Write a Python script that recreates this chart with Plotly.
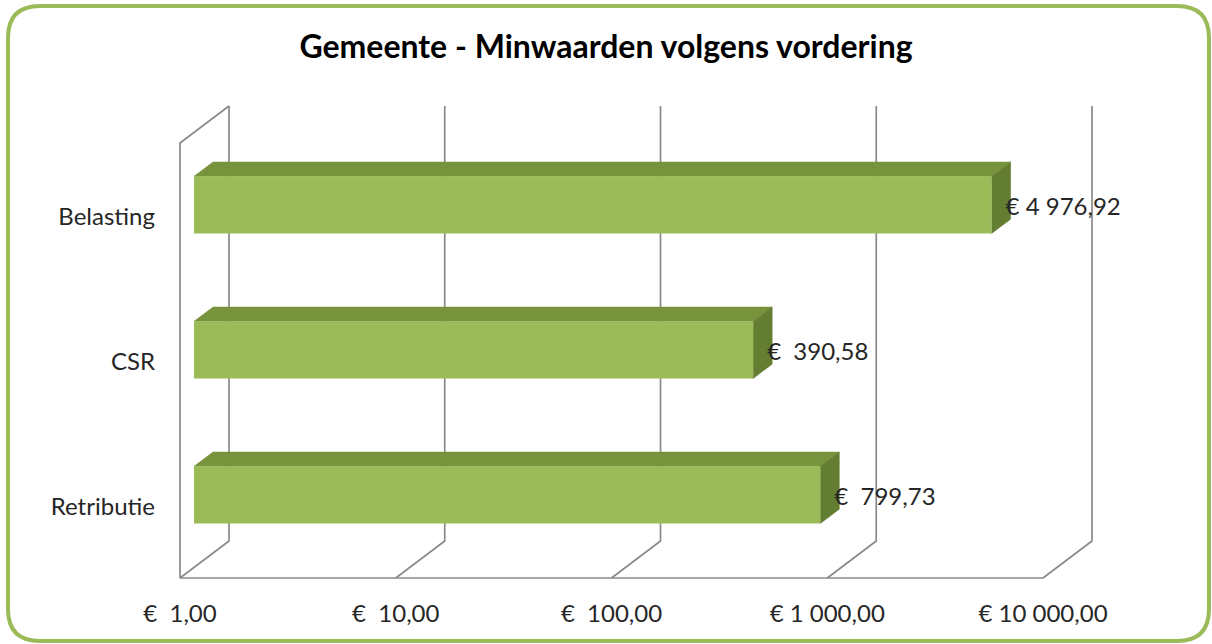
import plotly.graph_objects as go

# ---------------- data ----------------
CATEGORIES = ["Retributie", "CSR", "Belasting"]          # bottom -> top
VALUES = [799.73, 390.58, 4976.92]
DATA_LABELS = ["€\u00a0\u00a0799,73", "€\u00a0\u00a0390,58", "€\u00a04\u00a0976,92"]
TICK_VALUES = [1, 10, 100, 1000, 10000]
TICK_LABELS = ["€\u00a0\u00a01,00", "€\u00a0\u00a010,00", "€\u00a0\u00a0100,00",
               "€\u00a01\u00a0000,00", "€\u00a010\u00a0000,00"]
TITLE = "Gemeente - Minwaarden volgens vordering"

# ---------------- geometry / style ----------------
W, H = 1212, 644
ORIGIN_X = 180.0      # pixel of value 1 on front floor
DECADE = 215.75       # pixels per decade
CAT_Y0 = 505.5        # pixel of first category on front plane
CAT_STEP = 145.0      # pixels per category
DEPTH_PX = (49.0, 37.0)
BAR_FRONT, BAR_BACK = 14 / 49, 33 / 49
BAR_WIDTH = 0.394
LABEL_PAD_PX = 14
LABEL_DY_PX = 4

FONT = "Lato"
GREEN = "#9BBB59"
GREEN_TOP = "#77933C"
GREEN_SIDE = "#637D31"
GRID = "#8A8A8A"
TEXT = "#262626"

dxd = DEPTH_PX[0] / DECADE
dyd = DEPTH_PX[1] / CAT_STEP
xr = [-ORIGIN_X / DECADE, (W - ORIGIN_X) / DECADE]
yr = [(CAT_Y0 - H) / CAT_STEP, CAT_Y0 / CAT_STEP]
n = len(CATEGORIES)
pos = list(range(n))
ylo, yhi = -0.5, n - 0.5


def shift(x, y, f):
    return x * 10 ** (f * dxd), y + f * dyd


fig = go.Figure()

# walls / gridlines
gx, gy = [], []
for t in TICK_VALUES:
    bx, by0 = shift(t, ylo, 1)
    _, by1 = shift(t, yhi, 1)
    gx += [t, bx, bx, None]
    gy += [ylo, by0, by1, None]
gx += [TICK_VALUES[0], TICK_VALUES[-1], None]
gy += [ylo, ylo, None]
lx, ly = shift(TICK_VALUES[0], yhi, 1)
gx += [TICK_VALUES[0], TICK_VALUES[0], lx, None]
gy += [ylo, yhi, ly, None]
fig.add_trace(go.Scatter(x=gx, y=gy, mode="lines", line=dict(color=GRID, width=1.7),
                         hoverinfo="skip", showlegend=False))

# top and side faces
base = TICK_VALUES[0]
for v, p in zip(VALUES, pos):
    top, bot = p + BAR_WIDTH / 2, p - BAR_WIDTH / 2
    a = shift(base, top, BAR_FRONT)
    b = shift(v, top, BAR_FRONT)
    c = shift(v, top, BAR_BACK)
    d = shift(base, top, BAR_BACK)
    fig.add_trace(go.Scatter(x=[a[0], b[0], c[0], d[0], a[0]], y=[a[1], b[1], c[1], d[1], a[1]],
                             fill="toself", fillcolor=GREEN_TOP, mode="lines",
                             line=dict(color=GREEN_TOP, width=0.5), hoverinfo="skip", showlegend=False))
    e = shift(v, bot, BAR_BACK)
    f = shift(v, bot, BAR_FRONT)
    fig.add_trace(go.Scatter(x=[b[0], c[0], e[0], f[0], b[0]], y=[b[1], c[1], e[1], f[1], b[1]],
                             fill="toself", fillcolor=GREEN_SIDE, mode="lines",
                             line=dict(color=GREEN_SIDE, width=0.5), hoverinfo="skip", showlegend=False))

# front faces (bars) on front-of-bar plane axes
fig.add_trace(go.Bar(y=pos, x=[v - base for v in VALUES], base=[base] * n, orientation="h",
                     width=BAR_WIDTH, marker=dict(color=GREEN, line=dict(width=0)),
                     xaxis="x2", yaxis="y2", hoverinfo="skip", showlegend=False))
fig.add_trace(go.Scatter(x=[v * 10 ** (LABEL_PAD_PX / DECADE) for v in VALUES],
                         y=[p - LABEL_DY_PX / CAT_STEP for p in pos],
                         mode="text", text=DATA_LABELS, textposition="middle right",
                         textfont=dict(family=FONT, size=24, color=TEXT), cliponaxis=False,
                         xaxis="x2", yaxis="y2", hoverinfo="skip", showlegend=False))

# rounded border
L, R, T, B, rad = 8, 1209, 6, 641, 32
def P(x, y):
    return f"{x / W:.5f},{1 - y / H:.5f}"
path = (f"M {P(L + rad, T)} L {P(R - rad, T)} Q {P(R, T)} {P(R, T + rad)} "
        f"L {P(R, B - rad)} Q {P(R, B)} {P(R - rad, B)} L {P(L + rad, B)} "
        f"Q {P(L, B)} {P(L, B - rad)} L {P(L, T + rad)} Q {P(L, T)} {P(L + rad, T)} Z")
fig.add_shape(type="path", path=path, xref="paper", yref="paper",
              line=dict(color=GREEN, width=4), layer="above")

floor_px = CAT_Y0 - ylo * CAT_STEP
fig.update_layout(
    width=W, height=H,
    margin=dict(l=0, r=0, t=0, b=0),
    paper_bgcolor="white", plot_bgcolor="white",
    barmode="overlay",
    title=dict(text=TITLE, x=0.5, xanchor="center", y=1 - 47 / H, yanchor="middle",
               font=dict(family=FONT, size=32, color="#000000", weight="bold")),
    font=dict(family=FONT, color=TEXT),
    xaxis=dict(type="log", range=xr, domain=[0, 1], tickvals=TICK_VALUES, ticktext=TICK_LABELS,
               anchor="free", position=(H - floor_px) / H, showgrid=False, zeroline=False,
               showline=False, ticks="", ticklabelstandoff=19,
               tickfont=dict(family=FONT, size=24, color=TEXT), fixedrange=True),
    yaxis=dict(range=yr, domain=[0, 1], tickvals=pos, ticktext=CATEGORIES,
               anchor="free", position=ORIGIN_X / W, showgrid=False, zeroline=False,
               showline=False, ticks="", ticklabelstandoff=25, ticklabelshift=1,
               tickfont=dict(family=FONT, size=24, color=TEXT), fixedrange=True),
    xaxis2=dict(type="log", overlaying="x", range=[xr[0] - BAR_FRONT * dxd, xr[1] - BAR_FRONT * dxd],
                visible=False, anchor="y2", fixedrange=True),
    yaxis2=dict(overlaying="y", range=[yr[0] - BAR_FRONT * dyd, yr[1] - BAR_FRONT * dyd],
                visible=False, anchor="x2", fixedrange=True),
    showlegend=False,
)

fig.write_html("out.html", config={"displayModeBar": False},
               post_script="document.body.style.margin='0';")
